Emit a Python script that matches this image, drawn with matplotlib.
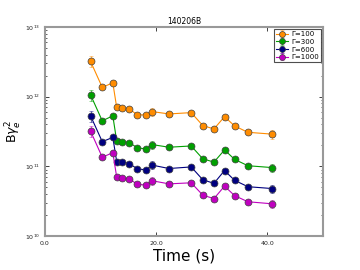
import matplotlib
matplotlib.use("Agg")
import matplotlib.pyplot as plt
import numpy as np
from matplotlib.ticker import LogLocator, FixedLocator, NullFormatter

time_s = [8.2, 10.3, 12.2, 12.9, 13.9, 15.2, 16.6, 18.1, 19.3, 22.3, 26.3, 28.4, 30.4, 32.3, 34.1, 36.5, 40.8]
g100 = [3.2e12, 1.36e12, 1.58e12, 7.0e11, 6.9e11, 6.6e11, 5.5e11, 5.46e11, 6.1e11, 5.65e11, 5.9e11, 3.84e11, 3.44e11, 5.17e11, 3.8e11, 3.08e11, 2.9e11]
g300 = [1.06e12, 4.5e11, 5.3e11, 2.3e11, 2.26e11, 2.19e11, 1.84e11, 1.78e11, 2.05e11, 1.88e11, 1.96e11, 1.28e11, 1.15e11, 1.72e11, 1.26e11, 1.02e11, 9.6e10]
g600 = [5.3e11, 2.26e11, 2.6e11, 1.17e11, 1.15e11, 1.09e11, 9.2e10, 8.9e10, 1.04e11, 9.3e10, 9.8e10, 6.4e10, 5.7e10, 8.7e10, 6.3e10, 5.1e10, 4.8e10]
g1000 = [3.2e11, 1.35e11, 1.57e11, 7.0e10, 6.8e10, 6.6e10, 5.5e10, 5.4e10, 6.2e10, 5.6e10, 5.8e10, 3.85e10, 3.44e10, 5.2e10, 3.8e10, 3.1e10, 2.9e10]
rel_err = [0.18, 0.05, 0.08, 0.04, 0.03, 0.03, 0.04, 0.04, 0.13, 0.04, 0.06, 0.04, 0.04, 0.06, 0.05, 0.07, 0.14]
labels = ["\u0393=100", "\u0393=300", "\u0393=600", "\u0393=1000"]
colors = ["#ff8c00", "#00a000", "#000080", "#c000c0"]
series = [g100, g300, g600, g1000]

fig = plt.figure(figsize=(3.6, 2.7), dpi=100)
ax = fig.add_axes([0.125, 0.126, 0.772, 0.774])

t = np.array(time_s)
re = np.array(rel_err)
for vals, c, lab in zip(series, colors, labels):
    v = np.array(vals)
    eb = ax.errorbar(t, v, yerr=v * re, color=c, ecolor=c, elinewidth=0.8, capsize=1.5,
                     capthick=0.6, lw=0.8, marker='o', ms=5, mfc=c, mec='#404040', mew=0.5,
                     label=lab)
    for ln in eb[1]:
        ln.set_alpha(0.6)
    for lc in eb[2]:
        lc.set_alpha(0.6)

ax.set_yscale('log')
ax.set_ylim(1e10, 1e13)
ax.set_xlim(0, 50)
ax.xaxis.set_major_locator(FixedLocator([0, 20, 40]))
ax.xaxis.set_major_formatter(matplotlib.ticker.FormatStrFormatter('%.1f'))
ax.yaxis.set_major_locator(LogLocator(base=10, numticks=10))
ax.yaxis.set_minor_locator(LogLocator(base=10, subs=np.arange(2, 10), numticks=10))
ax.yaxis.set_minor_formatter(NullFormatter())
ax.tick_params(which='both', direction='in', top=True, right=True, labelsize=4.5, colors='#222222')
ax.tick_params(which='major', length=3, width=0.6)
ax.tick_params(which='minor', length=1.5, width=0.5)
for s in ax.spines.values():
    s.set_color('#999999')
    s.set_linewidth(1.5)

ax.set_title("140206B", fontsize=5.5, pad=2)
ax.set_xlabel("Time (s)", fontsize=11, labelpad=2)
ax.set_ylabel(r"B$\gamma_e^2$", fontsize=9, labelpad=1)
leg = ax.legend(loc='upper right', fontsize=5, frameon=True, fancybox=False,
                borderpad=0.3, labelspacing=0.25, handlelength=1.8, handletextpad=0.4,
                borderaxespad=0.3, markerscale=0.85)
leg.get_frame().set_edgecolor('#222222')
leg.get_frame().set_linewidth(0.8)

fig.savefig("out.png", dpi=100)
